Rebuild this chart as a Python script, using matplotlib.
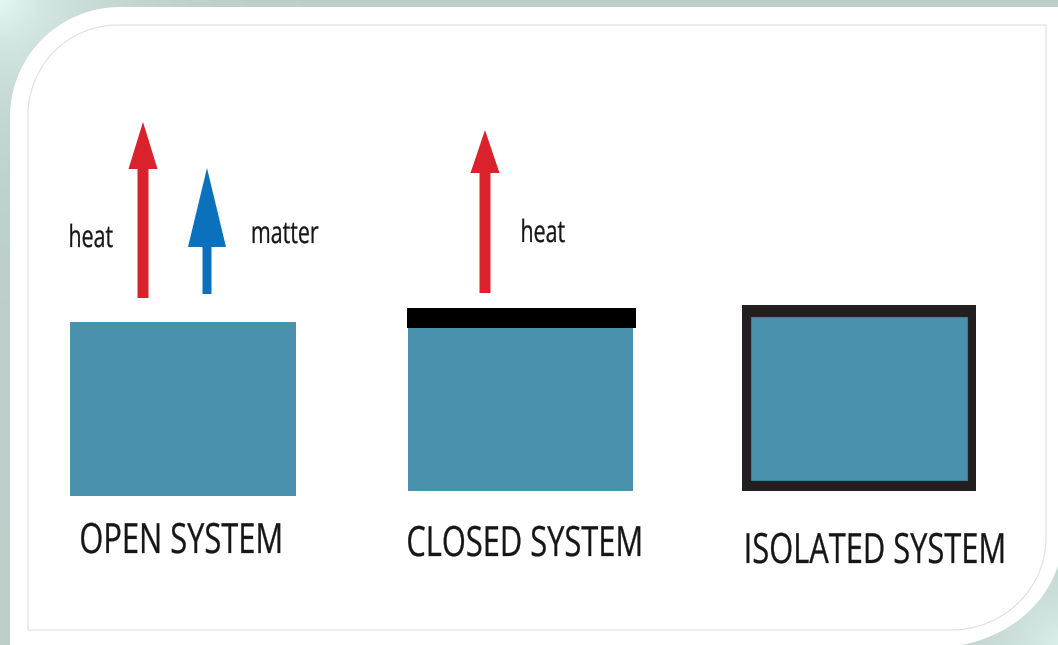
import matplotlib
matplotlib.use("Agg")
import matplotlib.pyplot as plt
import matplotlib.patheffects as pe
import numpy as np
from matplotlib.patches import Polygon, Rectangle, PathPatch
from matplotlib.path import Path
from matplotlib.transforms import Affine2D

SYSTEM_LABELS = ['OPEN SYSTEM', 'CLOSED SYSTEM', 'ISOLATED SYSTEM']
FLOW_LABELS = ['heat', 'matter', 'heat']

BOX_BLUE = '#4a91ae'
HEAT_RED = '#d9222c'
MATTER_BLUE = '#0b71bd'
TEXT = '#161616'

W, H = 1058, 645


class Squeeze(pe.AbstractPathEffect):
    ### Condense glyphs horizontally (the original uses a condensed face)
    def __init__(self, sx, stroke=0.5):
        super().__init__()
        self.sx = sx
        self.stroke = stroke

    def draw_path(self, renderer, gc, tpath, affine, rgbFace=None):
        bb = tpath.get_extents(affine)
        cx = 0.5 * (bb.x0 + bb.x1)
        squeeze = Affine2D().translate(-cx, 0).scale(self.sx, 1).translate(cx, 0)
        gc0 = renderer.new_gc()
        gc0.copy_properties(gc)
        gc0.set_linewidth(self.stroke)
        gc0.set_foreground(rgbFace)
        renderer.draw_path(gc0, tpath, affine + squeeze, rgbFace)
        gc0.restore()


def corner_path(x0, y0, x1, y1, r_tl, r_br):
    ### rectangle with rounded top-left and bottom-right corners (y grows down)
    t = np.linspace(0, np.pi / 2, 30)
    pts = []
    pts += list(zip(x0 + r_tl[0] - r_tl[0] * np.cos(t), y0 + r_tl[1] - r_tl[1] * np.sin(t)))
    pts.append((x1, y0))
    pts += list(zip(x1 - r_br[0] + r_br[0] * np.cos(t), y1 - r_br[1] + r_br[1] * np.sin(t)))
    pts.append((x0, y1))
    pts.append(pts[0])
    return Path(pts, closed=True)


def up_arrow(ax, cx, y_bottom, y_tip, shaft_w, head_w, head_len, color):
    hb = y_tip + head_len
    verts = [
        (cx - shaft_w / 2, y_bottom),
        (cx - shaft_w / 2, hb),
        (cx - head_w / 2, hb),
        (cx, y_tip),
        (cx + head_w / 2, hb),
        (cx + shaft_w / 2, hb),
        (cx + shaft_w / 2, y_bottom),
    ]
    ax.add_patch(Polygon(verts, closed=True, facecolor=color, edgecolor='none', zorder=3))


fig = plt.figure(figsize=(W / 100, H / 100), dpi=100)
ax = fig.add_axes([0, 0, 1, 1])
ax.set_xlim(0, W)
ax.set_ylim(H, 0)
ax.axis('off')

# Background gradient
yy, xx = np.mgrid[0:H, 0:W]
base = np.array([0.737, 0.808, 0.788])
light = np.array([0.89, 0.97, 0.955])
w1 = np.exp(-np.hypot(xx, yy) / 80.0)
w2 = 0.8 * np.exp(-np.hypot(W - xx, H - yy) / 70.0)
w = np.clip(w1 + w2, 0, 1)[..., None]
bg = base * (1 - w) + light * w
ax.imshow(bg, extent=(0, W, H, 0), zorder=0, interpolation='bilinear')

# White panel and inner border
ax.add_patch(PathPatch(corner_path(10, 7, 1062, 648, (110, 110), (130, 110)),
                       facecolor='white', edgecolor='none', zorder=1))
ax.add_patch(PathPatch(corner_path(28, 25, 1046, 630, (90, 90), (95, 92)),
                       facecolor='none', edgecolor='#e0e0e0', lw=0.8, zorder=1))

# Open system
ax.add_patch(Rectangle((70, 322), 226, 174, facecolor=BOX_BLUE, edgecolor='none', zorder=2))
up_arrow(ax, 143, 298, 122, 11, 29, 47, HEAT_RED)
up_arrow(ax, 207, 294, 168, 9, 38, 79, MATTER_BLUE)

# Closed system
ax.add_patch(Rectangle((408, 326), 225, 165, facecolor=BOX_BLUE, edgecolor='none', zorder=2))
ax.add_patch(Rectangle((407, 308), 229, 20, facecolor='black', edgecolor='none', zorder=3))
up_arrow(ax, 485, 293, 130, 11, 29, 43, HEAT_RED)

# Isolated system
ax.add_patch(Rectangle((742, 305), 234, 186, facecolor='#231f20', edgecolor='none', zorder=2))
ax.add_patch(Rectangle((751, 317), 216, 163, facecolor=BOX_BLUE, edgecolor='#3b7f93',
                       lw=0.8, zorder=3))

flow_pos = [(90.5, 247), (284.5, 243), (542.5, 242)]
for label, (x, y) in zip(FLOW_LABELS, flow_pos):
    ax.text(x, y, label, ha='center', va='baseline', fontsize=22,
            family=['Open Sans', 'DejaVu Sans'], color=TEXT,
            path_effects=[Squeeze(0.7, 0.2)], zorder=4)

label_pos = [(181.5, 553), (525, 556), (875, 563)]
for label, (x, y) in zip(SYSTEM_LABELS, label_pos):
    ax.text(x, y, label, ha='center', va='baseline', fontsize=30,
            family=['Open Sans', 'DejaVu Sans'], color=TEXT,
            path_effects=[Squeeze(0.74, 0.2)], zorder=4)

fig.savefig('out.png', dpi=100)
